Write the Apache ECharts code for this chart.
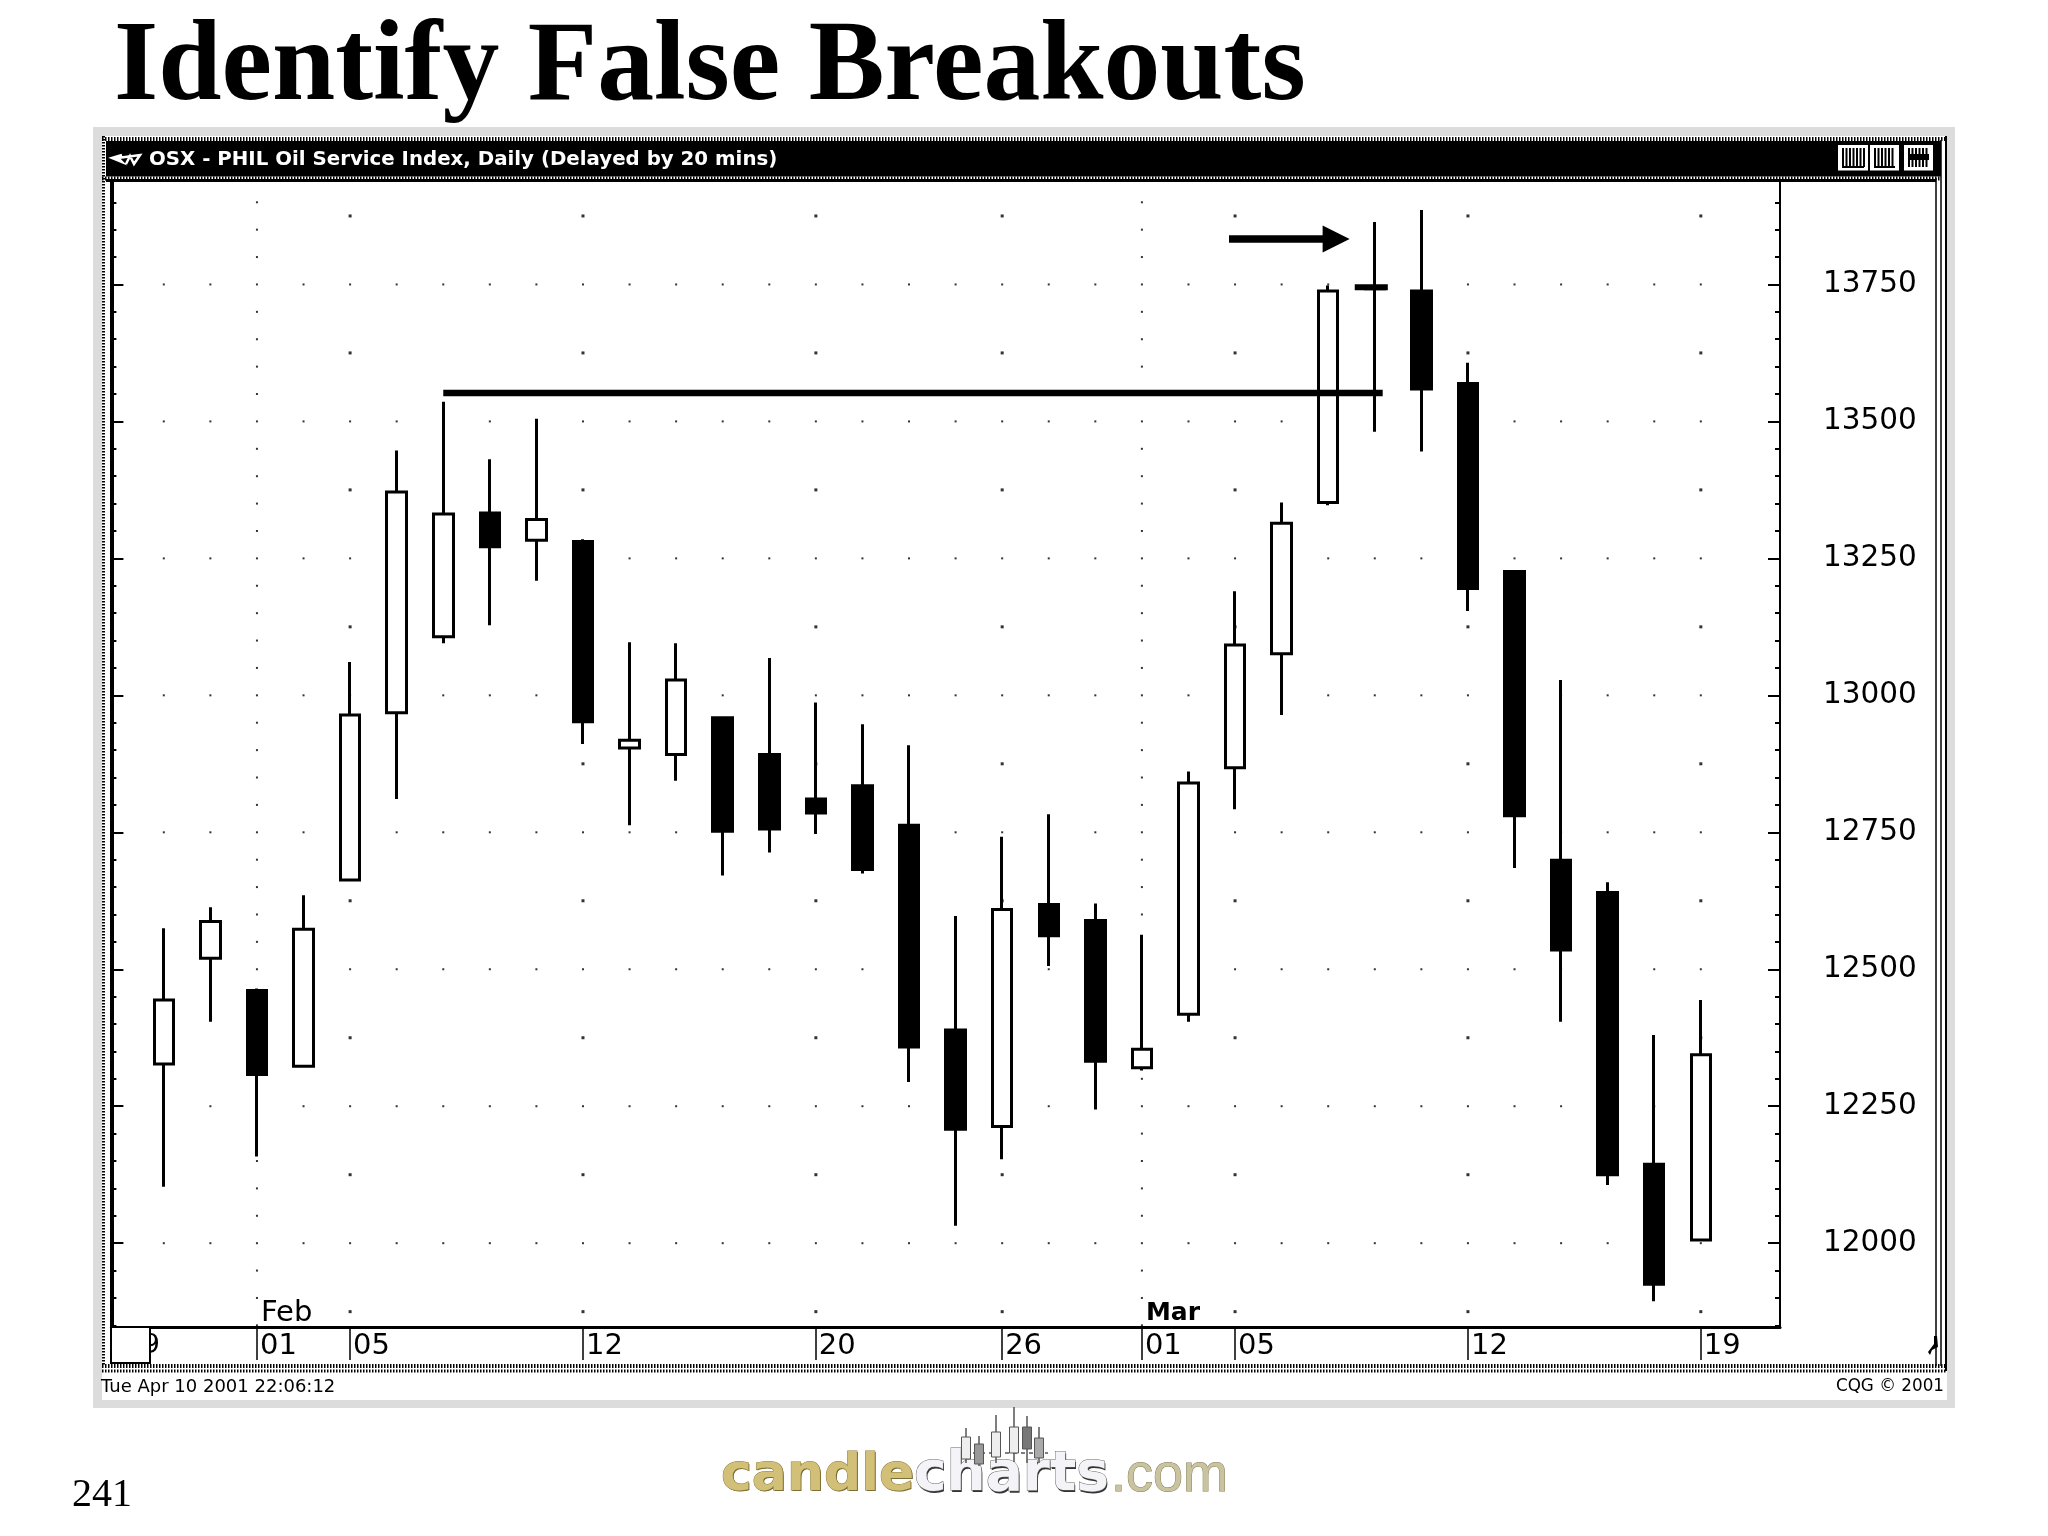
<!DOCTYPE html>
<html><head><meta charset="utf-8">
<style>html,body{margin:0;padding:0;background:#fff}#c{width:2048px;height:1536px}</style>
<script src="https://cdn.jsdelivr.net/npm/echarts@6/dist/echarts.min.js"></script>
</head><body><div id="c"></div>
<script>
const dates = ['Jan 30','Jan 31','Feb 01','Feb 02','Feb 05','Feb 06','Feb 07','Feb 08','Feb 09','Feb 12','Feb 13','Feb 14','Feb 15','Feb 16','Feb 20','Feb 21','Feb 22','Feb 23','Feb 26','Feb 27','Feb 28','Mar 01','Mar 02','Mar 05','Mar 06','Mar 07','Mar 08','Mar 09','Mar 12','Mar 13','Mar 14','Mar 15','Mar 16','Mar 19'];
const opens  = [12327,12520,12461,12323,12663,12968,13107,13333,13283,13281,12904,12892,12959,12892,12811,12835,12763,12389,12213,12618,12589,12320,12418,12868,13076,13352,13746,13738,13569,13226,12699,12640,12144,12006];
const closes = [12444,12587,12308,12573,12964,13371,13331,13271,13321,12952,12918,13028,12752,12756,12785,12682,12358,12208,12609,12561,12332,12354,12840,13092,13314,13738,13742,13559,13195,12780,12535,12125,11925,12344];
const lows   = [12103,12404,12158,12320,12661,12811,13095,13128,13209,12911,12763,12844,12671,12713,12747,12675,12294,12032,12153,12506,12244,12315,12404,12792,12964,13347,13481,13445,13154,12685,12404,12106,11894,12003];
const highs  = [12575,12613,12465,12635,13061,13447,13536,13431,13505,13285,13097,13095,12961,13068,12987,12947,12909,12597,12742,12783,12620,12563,12861,13190,13352,13748,13864,13886,13607,13228,13028,12659,12380,12444];
const yLabels = [12000,12250,12500,12750,13000,13250,13500,13750];
const yMinorTicks = [11850,11900,11950,12050,12100,12150,12200,12300,12350,12400,12450,12550,12600,12650,12700,12800,12850,12900,12950,13050,13100,13150,13200,13300,13350,13400,13450,13550,13600,13650,13700,13800,13850,13900];
const xTickIdx = [2,4,9,14,18,21,23,28,33];
const xTickText = ['01','05','12','20','26','01','05','12','19'];
const midLevels = [11875,12125,12375,12625,12875,13125,13375,13625,13875];
const monthLabels = [['Feb',2,11872],['Mar',21,11872]];
const breakoutLevel = [[6,13552],[26.17,13552]];
const dojiMark = [[25.57,13745],[26.28,13745]];
const arrowFrom = [22.87,13833], arrowTo = [25.17,13833];

const candleData = dates.map((d,i)=>[i,opens[i],closes[i],lows[i],highs[i]]);
const dotsA = []; yLabels.forEach(v=>dates.forEach((d,i)=>dotsA.push([i,v])));
const dotsB = []; midLevels.forEach(v=>xTickIdx.forEach(i=>{ if(i!==2&&i!==21) dotsB.push([i,v]); }));
const dotsC = []; [2,21].forEach(i=>[...yMinorTicks].forEach(v=>dotsC.push([i,v])));

const g = [];
const rect=(x,y,w,h,fill,z,stroke,lw)=>g.push({type:'rect',silent:true,z:z||0,shape:{x,y,width:w,height:h},style:{fill:fill||'none',stroke:stroke||'none',lineWidth:lw||0}});
const line=(x1,y1,x2,y2,lw,dash,stroke,z)=>g.push({type:'line',silent:true,z:z||0,shape:{x1,y1,x2,y2},style:{stroke:stroke||'#000',lineWidth:lw,lineDash:dash||null}});
const text=(x,y,t,font,fill,extra)=>g.push({type:'text',silent:true,z:3,x,y,style:Object.assign({text:t,font,fill,textVerticalAlign:'middle',textAlign:'left'},extra||{})});

// window frame
rect(93,127,1862,1281,'#dcdcdc');
rect(102,136,1845,1264,'#fff');
rect(106,141,1835,35.5,'#000');
line(102,139,1946,139,4,[1.5,1.5]);
line(102,178.5,1941,178.5,4,[1.5,1.5]);
line(106,180.5,1936,180.5,3);
line(103.5,136,103.5,1366,3,[1.5,1.5]);
line(1936,178,1936,1366,1.5);
line(1941,140,1941,1366,1.5);
line(1946,136,1946,1371,2);
line(102,1366,1946,1366,4,[1.5,1.5]);
line(102,1371,1946,1371,3,[1.5,1.5]);
text(160,1346,'9','27px "DejaVu Sans"','#000',{textAlign:'right'});
rect(111,1327,39,36,'#fff',4,'#000',2);
// title bar buttons
[[1838,30],[1870,29],[1904,29]].forEach(([x,w],k)=>{
  rect(x,145,w,25.5,'#fff',1);
  for(let q=x+5;q<x+w-3;q+=3.5) line(q,148,q,167,2,null,'#000',2);
  line(x+4,k===2?157:167,x+w-4,k===2?157:167,k===2?6:2,null,'#000',2);
});
// title bar icon
g.push({type:'polyline',silent:true,z:3,shape:{points:[[122,155],[112,158],[122,162],[118,158],[140,155],[134,164],[130,156],[126,164]]},style:{stroke:'#fff',lineWidth:2.5,fill:'none'}});
text(149,160,'OSX - PHIL Oil Service Index, Daily (Delayed by 20 mins)','bold 19.8px "DejaVu Sans"','#fff');
text(101,1387,'Tue Apr 10 2001 22:06:12','18px "DejaVu Sans"','#000');
text(1944,1387,'CQG © 2001','16.8px "DejaVu Sans"','#000',{textAlign:'right'});
g.push({type:'polygon',silent:true,z:3,shape:{points:[[1928,1352],[1934,1344],[1934,1336],[1937,1336],[1938,1347],[1932,1350],[1930,1355]]},style:{fill:'#000'}});
// footer
text(72,1495,'241','40px "Liberation Serif"','#000');
text(722,1477.5,'candle','bold 52px "DejaVu Sans"','#6d6029');
text(721,1476,'candle','bold 52px "DejaVu Sans"','#d3c078',{stroke:'#8d7c3a',lineWidth:1});
text(915,1477.5,'charts','bold 55px "DejaVu Sans"','#333');
text(914,1476,'charts','bold 55px "DejaVu Sans"','#f4f4f8',{stroke:'#666',lineWidth:1});
text(1111,1476,'.com','54px "Liberation Sans"','#c9c49f',{stroke:'#84805a',lineWidth:1});
line(973,1453,1048,1453,1.5,[4,4],'#555',4);
[[966,1428,1437,1459,1463,'#eee'],[979,1436,1444,1464,1466,'#999'],[996,1415,1432,1457,1463,'#eee'],[1014,1407,1427,1453,1462,'#eee'],[1027,1416,1427,1449,1463,'#777'],[1039,1427,1438,1458,1463,'#aaa']].forEach(c=>{
  line(c[0],c[1],c[0],c[4],1.5,null,'#555',4);
  rect(c[0]-4.5,c[2],9,c[3]-c[2],c[5],5,'#555',1);
});

const xMin=-1.125, xMax=34.70, yMin=11847, yMax=13937;
const yAxisCommon={type:'value',min:yMin,max:yMax,scale:true,splitLine:{show:false},axisLabel:{show:false},axisLine:{show:false,onZero:false}};
const chart=echarts.init(document.getElementById('c'),null,{renderer:'canvas',width:2048,height:1536});
chart.setOption({
  animation:false,backgroundColor:'#fff',graphic:g,
  title:{text:'Identify False Breakouts',left:109,top:8,textStyle:{fontFamily:'Liberation Serif',fontWeight:'bold',fontSize:113.7,color:'#000'}},
  grid:{left:111.4,right:268,top:182,bottom:209,containLabel:false},
  xAxis:{type:'value',min:xMin,max:xMax,splitLine:{show:false},
    axisLine:{show:true,onZero:false,lineStyle:{color:'#000',width:3}},
    axisTick:{show:true,length:33,customValues:xTickIdx,lineStyle:{color:'#000',width:1.5}},
    axisLabel:{show:true,customValues:xTickIdx,margin:5,align:'left',padding:[0,0,0,3],color:'#000',fontFamily:'DejaVu Sans',fontSize:29,
      formatter:v=>xTickText[xTickIdx.indexOf(v)],showMinLabel:true,showMaxLabel:true}},
  yAxis:[
    Object.assign({},yAxisCommon,{position:'left',axisLine:{show:true,onZero:false,lineStyle:{color:'#000',width:4}},axisTick:{show:true,inside:true,length:12,customValues:yLabels,lineStyle:{color:'#000',width:2}}}),
    Object.assign({},yAxisCommon,{position:'left',axisTick:{show:true,inside:true,length:5,customValues:yMinorTicks,lineStyle:{color:'#000',width:2}}}),
    Object.assign({},yAxisCommon,{position:'right',axisLine:{show:true,onZero:false,lineStyle:{color:'#000',width:2}},axisTick:{show:true,inside:true,length:12,customValues:yLabels,lineStyle:{color:'#000',width:2}},
      axisLabel:{show:true,customValues:yLabels,margin:43,color:'#000',fontFamily:'DejaVu Sans',fontSize:29.5,padding:[0,0,8,0],formatter:v=>String(v)}}),
    Object.assign({},yAxisCommon,{position:'right',axisTick:{show:true,inside:true,length:5,customValues:yMinorTicks,lineStyle:{color:'#000',width:2}}})
  ],
  series:[
    {type:'scatter',name:'dots',data:dotsA,symbol:'rect',symbolSize:2,itemStyle:{color:'#000'},z:1,silent:true},
    {type:'scatter',name:'dots2',data:dotsB,symbol:'rect',symbolSize:3,itemStyle:{color:'#000'},z:1,silent:true},
    {type:'scatter',name:'dots3',data:dotsC,symbol:'rect',symbolSize:2,itemStyle:{color:'#000'},z:1,silent:true},
    {type:'candlestick',name:'OSX',data:candleData,encode:{x:0,y:[1,2,3,4]},barWidth:20,z:3,
      itemStyle:{color:'#fff',color0:'#000',borderColor:'#000',borderColor0:'#000',borderWidth:3}},
    {type:'line',name:'breakout',data:breakoutLevel,symbol:'none',z:4,lineStyle:{color:'#000',width:6.5},silent:true},
    {type:'line',name:'doji',data:dojiMark,symbol:'none',z:4,lineStyle:{color:'#000',width:6},silent:true},
    {type:'line',name:'arrow',data:[],z:4,silent:true,
      markLine:{silent:true,animation:false,symbol:['none','triangle'],symbolSize:[27,27],label:{show:false},lineStyle:{color:'#000',width:7.5,type:'solid'},
        data:[[{coord:arrowFrom},{coord:arrowTo}]]}},
    {type:'scatter',name:'months',data:monthLabels.map((m,i)=>({value:[m[1],m[2]],label:i?{fontWeight:'bold',fontSize:25,color:'#000'}:{fontSize:29,color:'#000'}})),symbolSize:0,z:4,silent:true,
      label:{show:true,position:'right',distance:4,color:'#000',opacity:1,fontFamily:'DejaVu Sans',formatter:p=>monthLabels[p.dataIndex][0]},
      emphasis:{disabled:true}}
  ]
});
</script></body></html>
